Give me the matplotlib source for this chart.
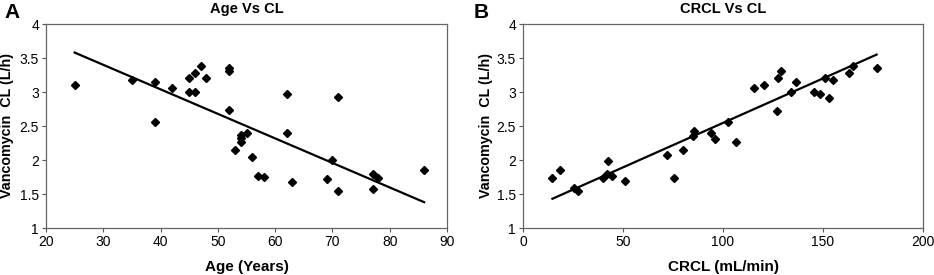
import matplotlib
matplotlib.use("Agg")
import matplotlib.pyplot as plt
import numpy as np

plt.rcParams['font.family'] = ['Liberation Sans', 'DejaVu Sans']

# Panel A: Age vs CL
age = [25, 35, 39, 39, 42, 45, 45, 46, 46, 47, 48, 52, 52, 52, 53, 54, 54, 54, 55, 56,
       57, 58, 62, 62, 63, 69, 70, 71, 71, 77, 77, 78, 86]
cl_age = [3.10, 3.18, 3.15, 2.56, 3.06, 3.21, 3.00, 3.28, 3.00, 3.38, 3.21, 3.36, 3.31,
          2.73, 2.14, 2.37, 2.32, 2.26, 2.40, 2.05, 1.76, 1.75, 2.97, 2.39, 1.67, 1.72,
          2.00, 2.92, 1.54, 1.80, 1.58, 1.73, 1.85]
fit_age_x = [25, 86]
fit_age_y = [3.58, 1.38]

# Panel B: CRCL vs CL
crcl = [14.7, 18.7, 25.5, 27.7, 40, 42.5, 42, 44.5, 51, 71.8, 75.3, 79.8, 84.8, 85.7,
        94.2, 95.8, 102.3, 106.7, 115.7, 120.7, 127, 127.5, 129.2, 134.2, 136.5, 145.5,
        148.5, 150.8, 153, 154.8, 162.8, 164.8, 176.8]
cl_crcl = [1.74, 1.86, 1.59, 1.55, 1.74, 1.99, 1.80, 1.77, 1.69, 2.07, 1.73, 2.14, 2.36,
           2.42, 2.40, 2.31, 2.56, 2.27, 3.06, 3.10, 2.72, 3.20, 3.31, 3.00, 3.15, 3.00,
           2.97, 3.21, 2.91, 3.18, 3.28, 3.38, 3.35]
fit_crcl_x = [14.7, 176.8]
fit_crcl_y = [1.43, 3.55]

yticks = [1, 1.5, 2, 2.5, 3, 3.5, 4]
ytick_labels = ['1', '1.5', '2', '2.5', '3', '3.5', '4']

W, H = 934, 275
fig = plt.figure(figsize=(W / 100, H / 100), dpi=100)

def add_ax(l, r, t, b):
    return fig.add_axes([l / W, 1 - b / H, (r - l) / W, (b - t) / H])

axA = add_ax(46, 447, 24, 228)
axB = add_ax(523, 923, 24, 228)

panels = [
    (axA, age, cl_age, fit_age_x, fit_age_y, (20, 90), range(20, 91, 10),
     'Age Vs CL', 'Age (Years)', -0.08),
    (axB, crcl, cl_crcl, fit_crcl_x, fit_crcl_y, (0, 200), range(0, 201, 50),
     'CRCL Vs CL', 'CRCL (mL/min)', -0.075),
]

for ax, x, y, fx, fy, xlim, xt, title, xlabel, ylx in panels:
    ax.plot(fx, fy, color='black', lw=1.6, zorder=2)
    ax.plot(x, y, linestyle='none', marker='D', ms=4.3, color='black', zorder=3)
    ax.set_xlim(*xlim)
    ax.set_ylim(1, 4)
    ax.set_xticks(list(xt))
    ax.set_yticks(yticks)
    ax.set_yticklabels(ytick_labels)
    ax.tick_params(labelsize=10, length=3, width=0.8, color='#555555', pad=2)
    for s in ax.spines.values():
        s.set_color('#666666')
        s.set_linewidth(0.9)
    ax.set_title(title, fontsize=10.5, fontweight='bold', pad=8)
    ax.set_xlabel(xlabel, fontsize=11, fontweight='bold', labelpad=8)
    ax.set_ylabel('Vancomycin  CL (L/h)', fontsize=10.3, fontweight='bold')
    ax.yaxis.set_label_coords(ylx, 0.5)

fig.text(4 / W, 1 - 13 / H, 'A', fontsize=15, fontweight='bold', va='center', ha='left')
fig.text(474 / W, 1 - 13 / H, 'B', fontsize=15, fontweight='bold', va='center', ha='left')

fig.savefig('out.png', dpi=100)
